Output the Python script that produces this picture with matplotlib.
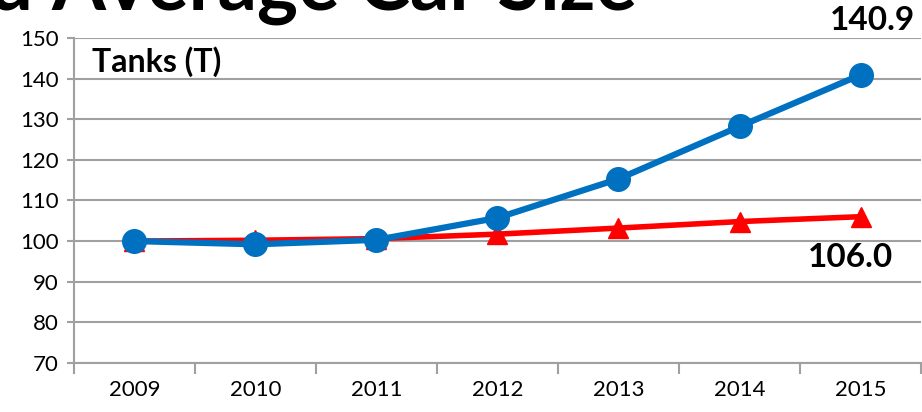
import matplotlib.pyplot as plt

# --- DONNEES ---
years = ["2009", "2010", "2011", "2012", "2013", "2014", "2015"]
tanks = [100.0, 99.2, 100.3, 105.7, 115.3, 128.2, 140.9]
car_size = [100.0, 100.2, 100.6, 101.7, 103.2, 104.8, 106.0]

plt.rcParams['font.family'] = ['Lato', 'DejaVu Sans']

fig = plt.figure(figsize=(9.22, 4.12), dpi=100)
ax = fig.add_axes([0.080, 0.119, 0.919, 0.789])

x = list(range(len(years)))
ax.plot(x, car_size, color='#FF0000', lw=4, marker='^', ms=15, zorder=3)
ax.plot(x, tanks, color='#0070C0', lw=4.5, marker='o', ms=17, zorder=4)

ax.set_xlim(-0.5, len(years) - 0.5)
ax.set_ylim(70, 150)
ax.set_yticks(range(70, 151, 10))
ax.set_xticks(x)
ax.set_xticklabels(years)
ax.set_xticks([i - 0.5 for i in range(len(years) + 1)], minor=True)

ax.grid(axis='y', color='#A0A0A0', lw=1.5, zorder=0)
for s in ['top', 'right']:
    ax.spines[s].set_visible(False)
for s in ['left', 'bottom']:
    ax.spines[s].set_color('#A0A0A0')
    ax.spines[s].set_linewidth(1.5)

ax.tick_params(axis='y', labelsize=16, length=5, width=1.5, color='#A0A0A0', pad=6)
ax.tick_params(axis='x', which='major', labelsize=16, length=0, pad=12)
ax.tick_params(axis='x', which='minor', length=8, width=1.5, color='#A0A0A0')

# --- TEXTES ---
ax.text(0.022, 0.975, "Tanks (T)", transform=ax.transAxes, fontsize=23,
        fontweight='bold', va='top', ha='left')
ax.annotate("140.9", xy=(6, tanks[-1]), xytext=(0.992, 0.985), textcoords=fig.transFigure,
            fontsize=24, fontweight='bold', ha='right', va='top', annotation_clip=False)
ax.text(6.27, 96.0, "106.0", fontsize=24, fontweight='bold', ha='right', va='center')

# titre coupé en haut, comme sur l'original
fig.text(-0.012, 0.94, "d Average Car Size", fontsize=56, fontweight='bold',
         ha='left', va='bottom')

fig.savefig("out.png", dpi=100)
